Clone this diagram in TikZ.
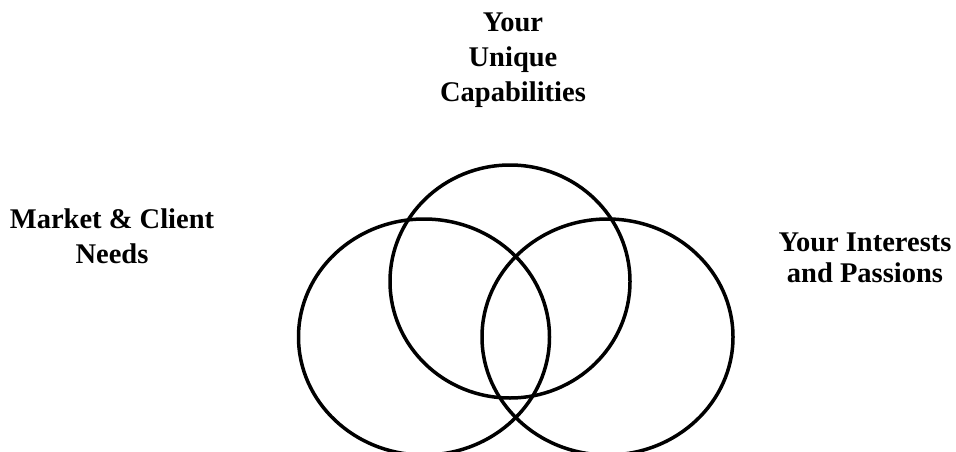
\documentclass[tikz,border=0pt]{standalone}
\usepackage{fontspec}
\setmainfont{Liberation Serif}
\usetikzlibrary{shapes.geometric}
\begin{document}
\begin{tikzpicture}[x=1pt,y=-1pt,
  ring/.style={draw=black, line width=3.5pt, ellipse, inner sep=0pt},
  label/.style={align=center, font=\fontsize{28.5}{35}\selectfont\bfseries, inner sep=0pt}]
\useasboundingbox (0,0) rectangle (956,452);
\node[ring, minimum width=240pt, minimum height=233pt] (cap) at (510,281.5) {};
\node[ring, minimum width=251pt, minimum height=236pt] (mkt) at (424,337) {};
\node[ring, minimum width=251pt, minimum height=236pt] (int) at (607.5,337) {};
\node[label] (tcap) at (513,60) {Your\\Unique\\Capabilities};
\node[label] (tmkt) at (112,236) {Market \& Client\\Needs};
\node[label, font=\fontsize{28.5}{31}\selectfont\bfseries] (tint) at (865,258) {Your Interests\\and Passions};
\end{tikzpicture}
\end{document}
